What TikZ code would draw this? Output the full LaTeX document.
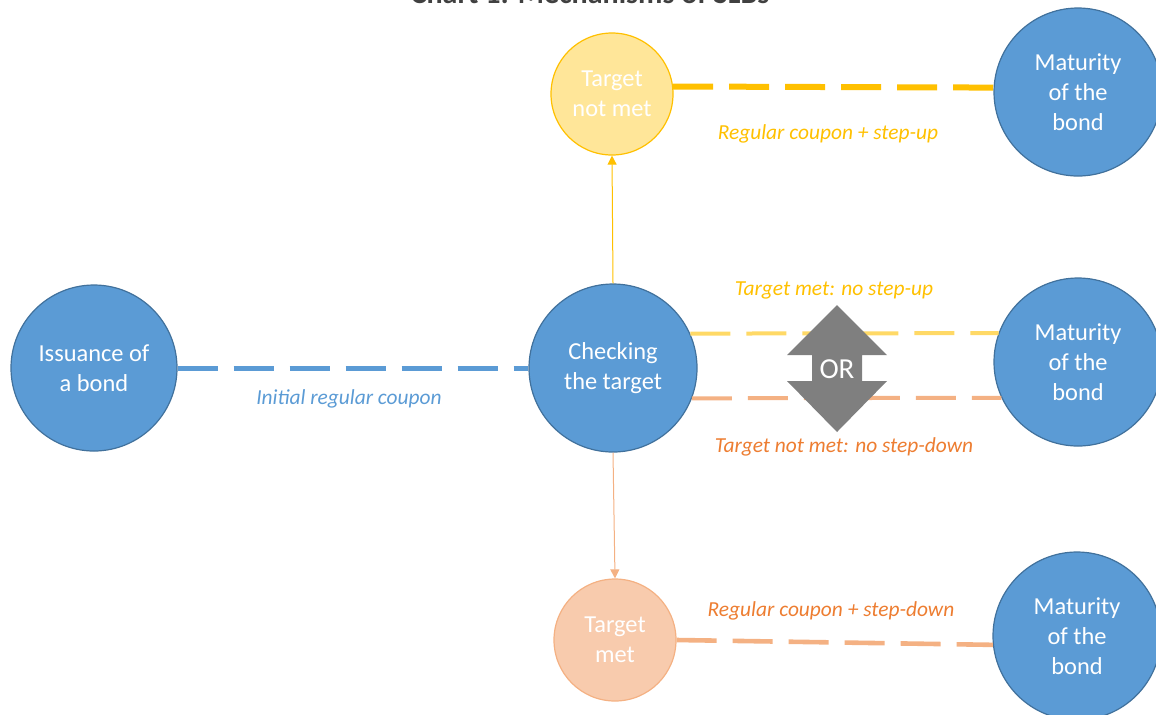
\documentclass[tikz,border=0pt]{standalone}
\usepackage{fontspec}
\setmainfont{Carlito}
\usetikzlibrary{arrows.meta}
\definecolor{cblue}{HTML}{5B9BD5}
\definecolor{cbluedark}{HTML}{41719C}
\definecolor{cgold}{HTML}{FFC000}
\definecolor{clightgold}{HTML}{FFE699}
\definecolor{cmidgold}{HTML}{FFD966}
\definecolor{corange}{HTML}{ED7D31}
\definecolor{clightorange}{HTML}{F4B183}
\definecolor{cpaleorange}{HTML}{F8CBAD}
\definecolor{cgray}{HTML}{7F7F7F}
\definecolor{ctitle}{HTML}{404040}
\tikzset{
  bluecirc/.style={circle, draw=cbluedark, line width=0.6pt, fill=cblue, text=white, align=center, font=\fontsize{12.2}{15}\selectfont, inner sep=0pt},
  goldcirc/.style={circle, draw=cgold, line width=0.6pt, fill=clightgold, text=white, align=center, font=\fontsize{12.2}{15}\selectfont, inner sep=0pt, minimum size=61pt},
  orangecirc/.style={circle, draw=clightorange, line width=0.6pt, fill=cpaleorange, text=white, align=center, font=\fontsize{12.2}{15}\selectfont, inner sep=0pt, minimum size=61pt},
  dashline/.style={line width=#1, dash pattern=on 20pt off 8pt},
  lbl/.style={font=\fontsize{10.7}{13}\selectfont\itshape, inner sep=0pt},
  thinarrow/.style={line width=0.5pt, -{Triangle[length=4.5pt,width=4.5pt]}},
}
\begin{document}
\begin{tikzpicture}[x=0.5pt,y=-0.5pt]
\useasboundingbox (0,0) rectangle (1156,714);
% title (cut off at top, as in the reference)
\node[anchor=base, font=\fontsize{15}{17}\selectfont\bfseries, text=ctitle, inner sep=0pt] (title) at (590,3) {Chart 1: Mechanisms of SLBs};
% nodes
\node[bluecirc, minimum size=83pt] (issue) at (94,368) {Issuance of\\a bond};
\node[bluecirc, minimum size=84pt] (check) at (613,368) {Checking\\the target};
\node[goldcirc] (tnm) at (612,94) {Target\\not met};
\node[orangecirc] (tm) at (615,640) {Target\\met};
\node[bluecirc, minimum size=84pt] (mat1) at (1078,92) {Maturity\\of the\\bond};
\node[bluecirc, minimum size=84pt] (mat2) at (1078,362) {Maturity\\of the\\bond};
\node[bluecirc, minimum size=84pt] (mat3) at (1077,636) {Maturity\\of the\\bond};
% connectors
\draw[dashline=2.5pt, cblue] (issue.east) -- (check.west);
\draw[dashline=3pt, cgold] (tnm.7) -- (mat1.177);
\draw[dashline=2pt, cmidgold] (check.24) -- (mat2.160);
\draw[dashline=2pt, clightorange] (check.-21) -- (mat2.205);
\draw[dashline=2.3pt, clightorange] (tm.east) -- (mat3.186);
\draw[thinarrow, cgold] (check.north) -- (tnm.south);
\draw[thinarrow, clightorange] (check.south) -- (tm.north);
% OR double arrow
\fill[cgray] (837,305) -- (887,355) -- (862,355) -- (862,381) -- (887,381) -- (837,432) -- (787,381) -- (812,381) -- (812,355) -- (787,355) -- cycle;
\node[text=white, font=\fontsize{14.5}{16}\selectfont, inner sep=0pt] (or) at (837,369) {OR};
% labels
\node[lbl, text=cblue] (l1) at (349,399) {Initial regular coupon};
\node[lbl, text=cgold] (l2) at (828,134) {Regular coupon + step-up};
\node[lbl, text=cgold] (l3) at (834,290) {Target met: no step-up};
\node[lbl, text=corange] (l4) at (844,447) {Target not met: no step-down};
\node[lbl, text=corange] (l5) at (831,611) {Regular coupon + step-down};
\end{tikzpicture}
\end{document}
